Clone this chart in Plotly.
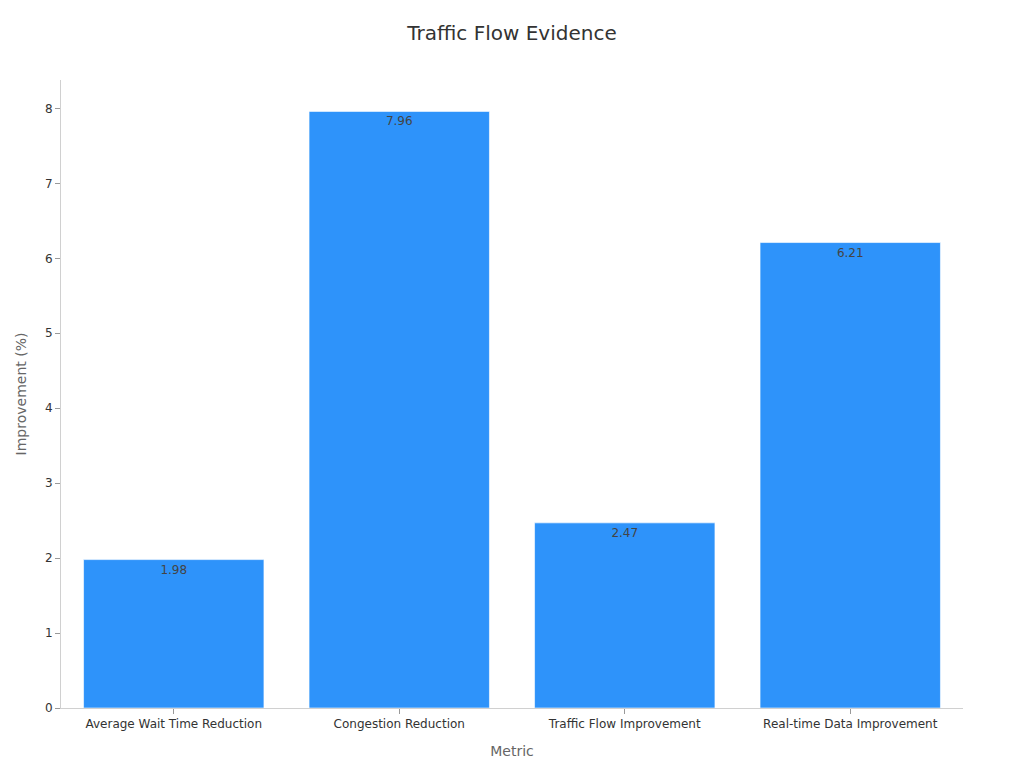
import plotly.graph_objects as go

# Data
metrics = ["Average Wait Time Reduction", "Congestion Reduction",
           "Traffic Flow Improvement", "Real-time Data Improvement"]
improvement = [1.98, 7.96, 2.47, 6.21]

fig = go.Figure()

fig.add_trace(
    go.Bar(
        x=metrics,
        y=improvement,
        text=[f"{v:.2f}" for v in improvement],
        textposition="inside",
        insidetextanchor="end",
        textfont=dict(color="#444444", size=12),
        marker=dict(color="#2E93FA", line=dict(color="rgba(255,255,255,0.6)", width=1)),
    )
)

# Layout (margins account for the page's 8px body offset)
fig.update_layout(
    title=dict(text="Traffic Flow Evidence", x=0.4922, xanchor="center", y=0.977,
               font=dict(size=20, color="#333333")),
    font=dict(family="DejaVu Sans", color="#333333"),
    paper_bgcolor="white",
    plot_bgcolor="white",
    width=1024,
    height=768,
    margin=dict(l=51, r=69, t=72, b=68),
    bargap=0.2,
    showlegend=False,
)

fig.update_xaxes(
    title_text="Metric",
    title_font=dict(size=14, color="#666666"),
    tickfont=dict(size=12, color="#333333"),
    showline=True, linecolor="#d0d0d0", linewidth=1,
    ticks="outside", tickcolor="#999999", ticklen=5,
    showgrid=False,
)

fig.update_yaxes(
    title_text="Improvement (%)",
    title_font=dict(size=14, color="#666666"),
    tickfont=dict(size=12, color="#333333"),
    showline=True, linecolor="#d0d0d0", linewidth=1,
    ticks="outside", tickcolor="#999999", ticklen=5,
    showgrid=False, zeroline=False,
    dtick=1,
)

fig.write_html("out.html")
